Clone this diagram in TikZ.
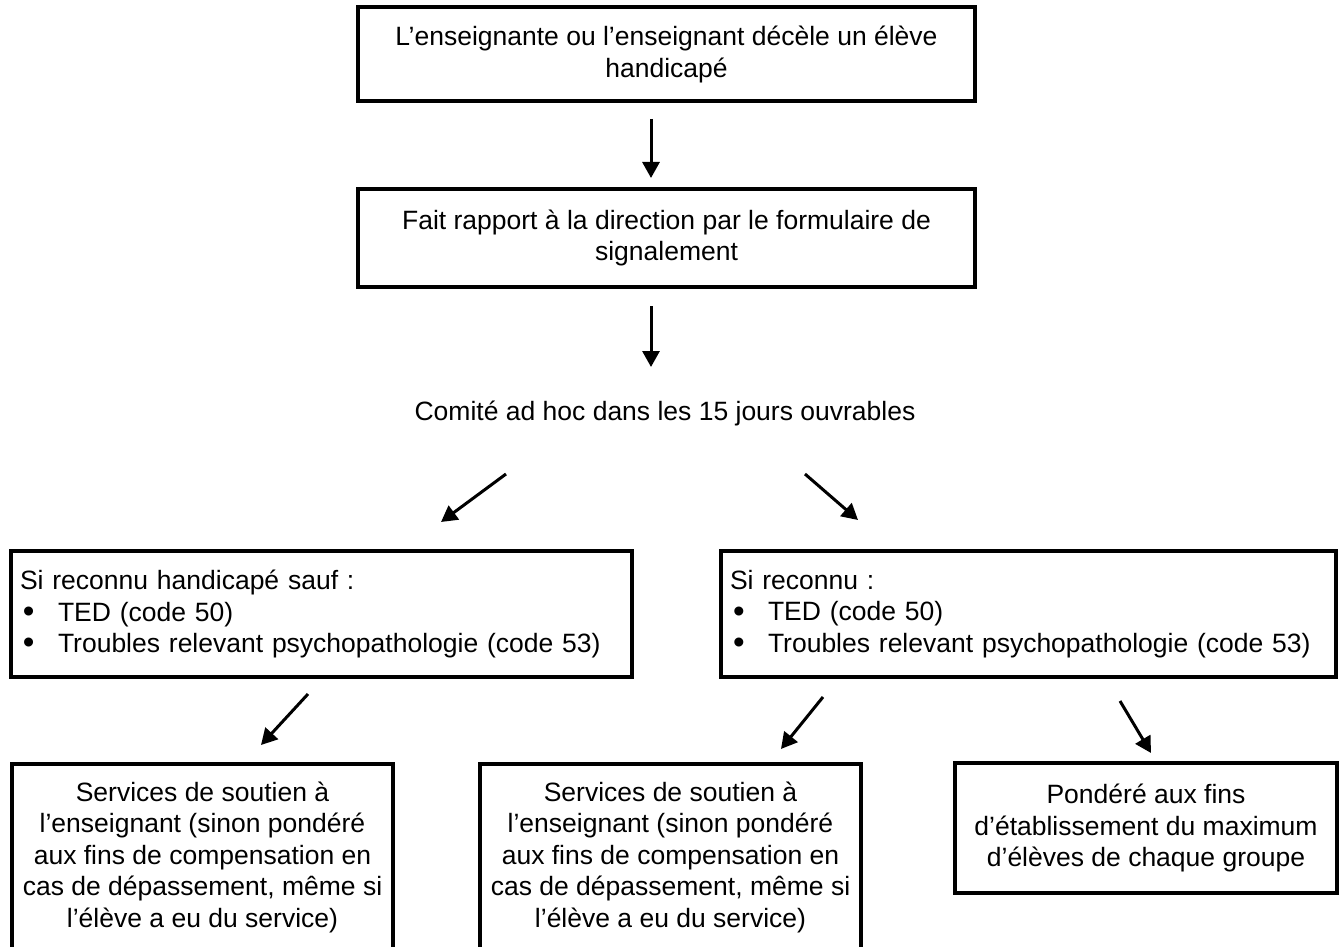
\documentclass[tikz,border=0pt]{standalone}
\usepackage{fontspec}
\setmainfont{Liberation Sans}
\usetikzlibrary{arrows.meta}
\newcommand{\puce}{\makebox[19pt][l]{\hspace{1.5pt}\raisebox{-0.6pt}{\scalebox{1.25}{\textbullet}}}}

\begin{document}
\begin{tikzpicture}[x=0.5pt, y=-0.5pt, >={Triangle[length=8pt,width=8.5pt]},
    every node/.style={font=\fontsize{13.25}{15.75}\selectfont}]
  \tikzstyle{box}=[draw, rectangle, line width=2pt, outer sep=0pt, inner sep=4.5pt]
  \tikzstyle{flow}=[->, line width=1.5pt]

  \useasboundingbox (0,0) rectangle (1340,947);

  \node[box, align=center, minimum width=308.5pt, minimum height=46.75pt] (decele) at (666.5,54.25)
    {L’enseignante ou l’enseignant décèle un élève\\handicapé};
  \node[box, align=center, minimum width=308.5pt, minimum height=49pt]    (rapport) at (666.5,238)
    {Fait rapport à la direction par le formulaire de\\signalement};
  \node (comite) at (665,413) {Comité ad hoc dans les 15 jours ouvrables};

  \node[box, align=left, text width=301.5pt, minimum height=63pt] (sauf) at (321.5,614)
    {Si reconnu handicapé sauf~:\\\puce TED (code 50)\\\puce Troubles relevant psychopathologie (code 53)};
  \node[box, align=left, text width=298.5pt, minimum height=63pt] (reconnu) at (1028.5,614)
    {Si reconnu~:\\\puce TED (code 50)\\\puce Troubles relevant psychopathologie (code 53)};

  \node[box, align=center, minimum width=190.5pt, minimum height=93pt] (soutienA) at (202.5,857)
    {Services de soutien à\\l’enseignant (sinon pondéré\\aux fins de compensation en\\cas de dépassement, même si\\l’élève a eu du service)};
  \node[box, align=center, minimum width=190.5pt, minimum height=93pt] (soutienB) at (670.5,857)
    {Services de soutien à\\l’enseignant (sinon pondéré\\aux fins de compensation en\\cas de dépassement, même si\\l’élève a eu du service)};
  \node[box, align=center, minimum width=191pt, minimum height=65pt]   (pondere) at (1146,828)
    {Pondéré aux fins\\d’établissement du maximum\\d’élèves de chaque groupe};

  %% arrows
  \draw[flow] ([shift={(-15.5,18)}]decele.south)  -- ([shift={(-15.5,-11)}]rapport.north);
  \draw[flow] ([shift={(-15.5,19)}]rapport.south) -- ([shift={(-14,-46)}]comite.center);
  \draw[flow] ([shift={(-159,61)}]comite.center)  -- ([shift={(119.5,-29)}]sauf.north);
  \draw[flow] ([shift={(140,61)}]comite.center)   -- ([shift={(-170.5,-31)}]reconnu.north);
  \draw[flow] ([shift={(-13.5,17)}]sauf.south)    -- ([shift={(58.5,-19)}]soutienA.north);
  \draw[flow] ([shift={(-205.5,20)}]reconnu.south) -- ([shift={(110.5,-15)}]soutienB.north);
  \draw[flow] ([shift={(91.5,24)}]reconnu.south)  -- ([shift={(5,-10)}]pondere.north);
\end{tikzpicture}
\end{document}
